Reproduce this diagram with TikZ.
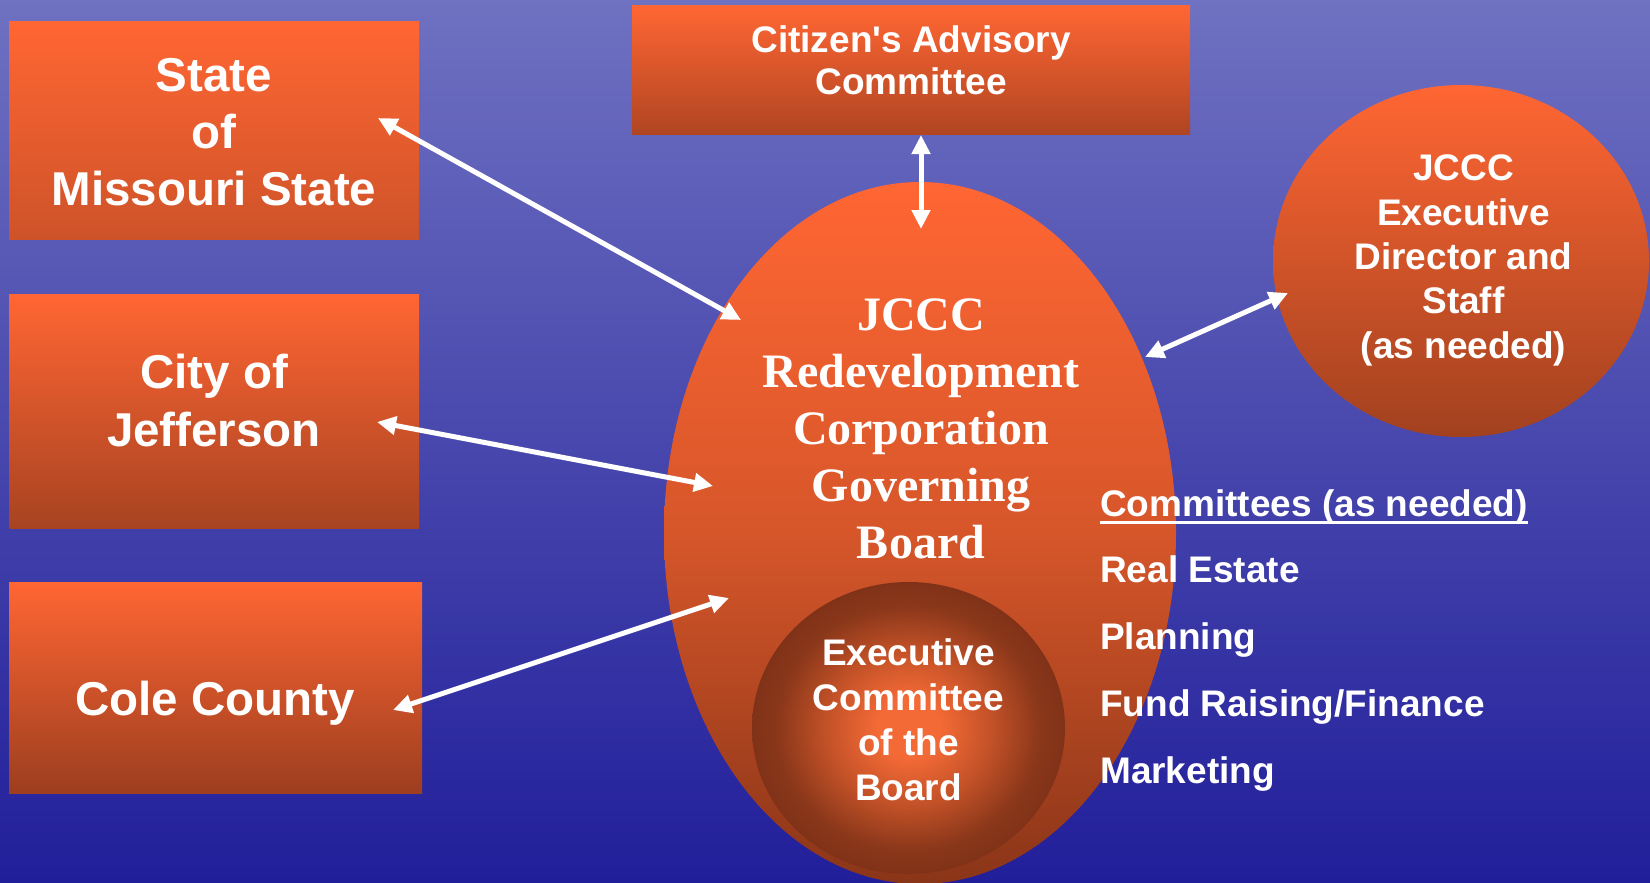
\documentclass[tikz,border=0pt]{standalone}
\usepackage{fontspec}
\setmainfont{Liberation Serif}
\newfontfamily\arialfam{Liberation Sans}
\usetikzlibrary{shapes.geometric,arrows.meta}

% palette
\definecolor{bgtop}{RGB}{111,113,193}
\definecolor{bgbot}{RGB}{33,30,154}
\definecolor{orTop}{RGB}{255,102,51}
\definecolor{orMid}{RGB}{214,86,42}
\definecolor{stateBot}{RGB}{206,83,41}
\definecolor{cityBot}{RGB}{168,67,33}
\definecolor{coleBot}{RGB}{157,62,31}
\definecolor{citBot}{RGB}{176,69,34}
\definecolor{boardBot}{RGB}{138,53,24}
\definecolor{dirBot}{RGB}{162,65,31}
\definecolor{glowIn}{RGB}{244,106,54}
\definecolor{glowMid}{RGB}{196,82,40}
\definecolor{glowOut}{RGB}{138,55,26}
\definecolor{glowRim}{RGB}{128,50,24}

% glowing disc for the executive committee
\pgfdeclareradialshading{execglow}{\pgfpoint{0bp}{0bp}}{%
  color(0bp)=(glowIn); color(5bp)=(glowIn); color(13bp)=(glowMid);
  color(21bp)=(glowOut); color(25bp)=(glowRim); color(50bp)=(glowRim)}

% underline with a chosen weight
\newsavebox\ulbox
\newcommand\thickul[1]{\sbox\ulbox{#1}\rlap{\rule[-7.7pt]{\wd\ulbox}{3pt}}\usebox\ulbox}

\tikzset{
  orbox/.style={draw=none, inner sep=0pt, top color=orTop},
  lbl/.style={text=white, inner sep=0pt, align=center},
  bigsans/.style={font=\arialfam\bfseries\fontsize{47.5}{57}\selectfont},
  linkarrow/.style={draw=white, line width=5pt,
    {Triangle[length=19pt,width=18pt]}-{Triangle[length=19pt,width=18pt]}},
}

\begin{document}
\begin{tikzpicture}[x=1pt,y=-1pt]
\useasboundingbox (0,0) rectangle (1650,883);
\fill[top color=bgtop,bottom color=bgbot] (0,0) rectangle (1650,883);

% partner bodies
\node[orbox, bottom color=stateBot, minimum width=410, minimum height=217] (state) at (214,130.5) {};
\node[orbox, bottom color=cityBot, minimum width=410, minimum height=234] (city) at (214,411) {};
\node[orbox, bottom color=coleBot, minimum width=413, minimum height=211] (cole) at (215.5,687.5) {};
\node[orbox, bottom color=citBot, minimum width=558, minimum height=128] (citizen) at (911,70) {};

% governing board and its executive committee
\node[orbox, ellipse, bottom color=boardBot, middle color=orMid,
      minimum width=512, minimum height=702] (board) at (920,533) {};
\node[ellipse, draw=none, inner sep=0pt, shading=execglow,
      minimum width=313, minimum height=292] (execcom) at (908.5,728) {};

% executive director
\node[orbox, ellipse, bottom color=dirBot, minimum width=376, minimum height=352] (director) at (1461,261) {};

% arrow end points
\coordinate (stateTip) at (378,118);
\coordinate (boardTipA) at (741,320);
\coordinate (cityTip) at (377,422);
\coordinate (boardTipB) at (713,486);
\coordinate (coleTip) at (393,710);
\coordinate (boardTipC) at (729,598);
\coordinate (citizenTip) at (921,135);
\coordinate (boardTipD) at (921,229);
\coordinate (boardTipE) at (1145,357);
\coordinate (directorTip) at (1288,293);

\draw[linkarrow] (stateTip) -- (boardTipA);
\draw[linkarrow] (cityTip) -- (boardTipB);
\draw[linkarrow] (coleTip) -- (boardTipC);
\draw[linkarrow] (citizenTip) -- (boardTipD);
\draw[linkarrow] (boardTipE) -- (directorTip);

% labels
\node[lbl, bigsans] (stateText) at (214,136.6) {\strut State\\\strut of\\\strut Missouri State};
\node[lbl, font=\arialfam\bfseries\fontsize{47.5}{58}\selectfont] (cityText) at (214,405.4) {\strut City of\\\strut Jefferson};
\node[lbl, bigsans] (coleText) at (215,703.6) {\strut Cole County};
\node[lbl, font=\arialfam\bfseries\fontsize{37}{43}\selectfont] (citizenText) at (911,64.9)
  {\strut Citizen's Advisory\\\strut Committee};
\node[lbl, font=\rmfamily\bfseries\fontsize{48}{57}\selectfont] (boardText) at (921,432.6)
  {\strut JCCC\\\strut Redevelopment\\\strut Corporation\\\strut Governing\\\strut Board};
\node[lbl, font=\arialfam\bfseries\fontsize{37}{44.7}\selectfont] (execText) at (908.5,724.1)
  {\strut Executive\\\strut Committee\\\strut of the\\\strut Board};
\node[lbl, font=\arialfam\bfseries\fontsize{37}{44.3}\selectfont] (directorText) at (1463.5,260.6)
  {\strut JCCC\\\strut Executive\\\strut Director and\\\strut Staff\\\strut (as needed)};
\node[text=white, inner sep=0pt, align=left, anchor=west,
      font=\arialfam\bfseries\fontsize{37}{66.75}\selectfont] (committees) at (1100,636.15)
  {\strut\thickul{Committees (as needed)}\\\strut Real Estate\\\strut Planning\\\strut Fund Raising/Finance\\\strut Marketing};
\end{tikzpicture}
\end{document}
